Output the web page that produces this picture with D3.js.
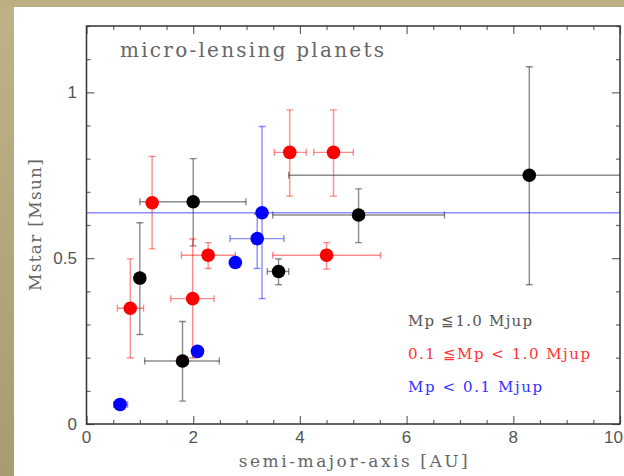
<!DOCTYPE html>
<html>
<head>
<meta charset="utf-8">
<script src="https://cdn.jsdelivr.net/npm/d3@7/dist/d3.min.js"></script>
<style>
  html, body { margin: 0; padding: 0; background: #fff; }
  svg { display: block; }
</style>
</head>
<body>
<script>
// Host-star mass vs. semi-major axis for micro-lensing planets, split by planet mass.

// Mp >= 1.0 Mjup (black)
const bigA   = [1.0, 2.0, 1.8, 3.6, 5.1, 8.3];
const bigM   = [0.44, 0.67, 0.19, 0.46, 0.63, 0.75];
const bigALo = [null, 1.0, 1.09, 3.39, 3.49, 3.79];
const bigAHi = [null, 2.99, 2.49, 3.79, 6.71, 12];
const bigMLo = [0.27, 0.537, 0.069, 0.42, 0.547, 0.42];
const bigMHi = [0.607, 0.80, 0.309, 0.498, 0.709, 1.077];

// 0.1 <= Mp < 1.0 Mjup (red)
const midA   = [1.23, 0.82, 1.99, 2.28, 3.81, 4.63, 4.50];
const midM   = [0.667, 0.349, 0.378, 0.509, 0.819, 0.819, 0.509];
const midALo = [null, 0.58, 1.58, 1.78, 3.52, 4.26, 3.49];
const midAHi = [null, 1.07, 2.39, 2.79, 4.12, 5.0, 5.51];
const midMLo = [0.528, 0.199, 0.199, 0.469, 0.687, 0.687, 0.467];
const midMHi = [0.807, 0.498, 0.558, 0.547, 0.947, 0.947, 0.547];

// Mp < 0.1 Mjup (blue)
const lowA   = [0.63, 2.08, 2.79, 3.2, 3.29];
const lowM   = [0.059, 0.219, 0.487, 0.559, 0.637];
const lowALo = [0.51, null, null, 2.69, -2];
const lowAHi = [0.77, null, null, 3.70, 12];
const lowMLo = [null, null, null, 0.469, 0.378];
const lowMHi = [null, null, null, 0.633, 0.897];

const xTickValues = [0, 2, 4, 6, 8, 10];
const yTickValues = [0, 0.5, 1];
const legendLabels = ["Mp \u22661.0 Mjup", "0.1 \u2266Mp < 1.0 Mjup", "Mp < 0.1 Mjup"];
const titleText = "micro-lensing planets";
const xTitle = "semi-major-axis [AU]";
const yTitle = "Mstar [Msun]";

const W = 624, H = 476;
const plot = { left: 86.5, right: 620, top: 26, bottom: 424 };

const x = d3.scaleLinear().domain([0, 10]).range([plot.left, plot.right]);
const y = d3.scaleLinear().domain([0, 1.2]).range([plot.bottom, plot.top]);

const svg = d3.select("body").append("svg").attr("width", W).attr("height", H);

// page frame: beige band along the top and left
const defs = svg.append("defs");
const grad = defs.append("linearGradient").attr("id", "band")
  .attr("x1", 0).attr("y1", 0).attr("x2", 0).attr("y2", 1);
grad.append("stop").attr("offset", "0%").attr("stop-color", "#beb286");
grad.append("stop").attr("offset", "100%").attr("stop-color", "#a79b72");
svg.append("rect").attr("x", 0).attr("y", 0).attr("width", W).attr("height", H).attr("fill", "url(#band)");
svg.append("rect").attr("x", 0).attr("y", 0).attr("width", W).attr("height", 7).attr("fill", "#bcb083");
svg.append("rect").attr("x", 14).attr("y", 7).attr("width", W - 14).attr("height", H - 7).attr("fill", "#fff");

defs.append("clipPath").attr("id", "plotclip").append("rect")
  .attr("x", plot.left).attr("y", plot.top)
  .attr("width", plot.right - plot.left).attr("height", plot.bottom - plot.top);

const series = [
  { color: "#000000", a: bigA, m: bigM, aLo: bigALo, aHi: bigAHi, mLo: bigMLo, mHi: bigMHi },
  { color: "#ff0000", a: midA, m: midM, aLo: midALo, aHi: midAHi, mLo: midMLo, mHi: midMHi },
  { color: "#0000ff", a: lowA, m: lowM, aLo: lowALo, aHi: lowAHi, mLo: lowMLo, mHi: lowMHi }
];

const g = svg.append("g").attr("clip-path", "url(#plotclip)");
const cap = 3.5;

series.forEach(s => {
  const eg = g.append("g").attr("stroke", s.color).attr("stroke-opacity", 0.45)
    .attr("stroke-width", 1.4).attr("fill", "none");
  s.a.forEach((a, i) => {
    const px = x(a), py = y(s.m[i]);
    if (s.aLo[i] !== null) {
      const x0 = x(s.aLo[i]), x1 = x(s.aHi[i]);
      eg.append("line").attr("x1", x0).attr("x2", x1).attr("y1", py).attr("y2", py);
      eg.append("line").attr("x1", x0).attr("x2", x0).attr("y1", py - cap).attr("y2", py + cap);
      eg.append("line").attr("x1", x1).attr("x2", x1).attr("y1", py - cap).attr("y2", py + cap);
    }
    if (s.mLo[i] !== null) {
      const y0 = y(s.mLo[i]), y1 = y(s.mHi[i]);
      eg.append("line").attr("x1", px).attr("x2", px).attr("y1", y0).attr("y2", y1);
      eg.append("line").attr("x1", px - cap).attr("x2", px + cap).attr("y1", y0).attr("y2", y0);
      eg.append("line").attr("x1", px - cap).attr("x2", px + cap).attr("y1", y1).attr("y2", y1);
    }
  });
});

series.forEach(s => {
  g.append("g").selectAll("circle").data(s.a).join("circle")
    .attr("cx", d => x(d))
    .attr("cy", (d, i) => y(s.m[i]))
    .attr("r", 6.8)
    .attr("fill", s.color);
});

// axes: ticks point inward on all four sides
const tickColor = "#666";
function drawTicks(axisGen, tx, ty) {
  const ax = svg.append("g").attr("transform", `translate(${tx},${ty})`).call(axisGen);
  ax.select(".domain").remove();
  ax.selectAll("line").attr("stroke", tickColor).attr("stroke-width", 1.2);
  ax.selectAll("text").remove();
  return ax;
}
const xMinor = d3.range(0, 10.01, 0.5).filter(v => v % 2 !== 0);
const yMinor = d3.range(0, 1.201, 0.1).map(v => +v.toFixed(1)).filter(v => !yTickValues.includes(v));

drawTicks(d3.axisTop(x).tickValues(xTickValues).tickSize(8), 0, plot.bottom);
drawTicks(d3.axisTop(x).tickValues(xMinor).tickSize(4), 0, plot.bottom);
drawTicks(d3.axisBottom(x).tickValues(xTickValues).tickSize(8), 0, plot.top);
drawTicks(d3.axisBottom(x).tickValues(xMinor).tickSize(4), 0, plot.top);
drawTicks(d3.axisRight(y).tickValues(yTickValues).tickSize(8), plot.left, 0);
drawTicks(d3.axisRight(y).tickValues(yMinor).tickSize(4), plot.left, 0);
drawTicks(d3.axisLeft(y).tickValues(yTickValues).tickSize(8), plot.right, 0);
drawTicks(d3.axisLeft(y).tickValues(yMinor).tickSize(4), plot.right, 0);

svg.append("rect")
  .attr("x", plot.left).attr("y", plot.top)
  .attr("width", plot.right - plot.left).attr("height", plot.bottom - plot.top)
  .attr("fill", "none").attr("stroke", "#333").attr("stroke-width", 1.5);

// tick labels; the last x label is pulled in so it stays on the page
const numFont = "'Liberation Sans', Arial, sans-serif";
svg.append("g").selectAll("text").data(xTickValues).join("text")
  .attr("x", d => d === 10 ? W - 1 : x(d)).attr("y", 443)
  .attr("text-anchor", d => d === 10 ? "end" : "middle")
  .attr("font-family", numFont).attr("font-size", 17).attr("fill", "#555")
  .text(d => d);
svg.append("g").selectAll("text").data(yTickValues).join("text")
  .attr("x", 77).attr("y", d => y(d) + 6)
  .attr("text-anchor", "end")
  .attr("font-family", numFont).attr("font-size", 17).attr("fill", "#555")
  .text(d => d);

// titles
const serif = "'DejaVu Serif', 'Liberation Serif', serif";
svg.append("text").attr("x", 120).attr("y", 57)
  .attr("font-family", serif).attr("font-size", 20).attr("fill", "#666")
  .attr("textLength", 264).attr("lengthAdjust", "spacing")
  .text(titleText);
svg.append("text").attr("x", (plot.left + plot.right) / 2).attr("y", 467)
  .attr("text-anchor", "middle")
  .attr("font-family", serif).attr("font-size", 17).attr("fill", "#666")
  .attr("textLength", 229).attr("lengthAdjust", "spacing")
  .text(xTitle);
svg.append("text")
  .attr("transform", `translate(41,${(plot.top + plot.bottom) / 2}) rotate(-90)`)
  .attr("text-anchor", "middle")
  .attr("font-family", serif).attr("font-size", 17).attr("fill", "#666")
  .attr("textLength", 132).attr("lengthAdjust", "spacing")
  .text(yTitle);

// legend
const legendColors = ["#555", "#ff3333", "#3333ff"];
const legendWidths = [124, 182, 134];
svg.append("g").selectAll("text").data(legendLabels).join("text")
  .attr("x", 408).attr("y", (d, i) => 326 + i * 33)
  .attr("font-family", serif).attr("font-size", 15)
  .attr("fill", (d, i) => legendColors[i])
  .attr("textLength", (d, i) => legendWidths[i]).attr("lengthAdjust", "spacing")
  .text(d => d);
</script>
</body>
</html>
